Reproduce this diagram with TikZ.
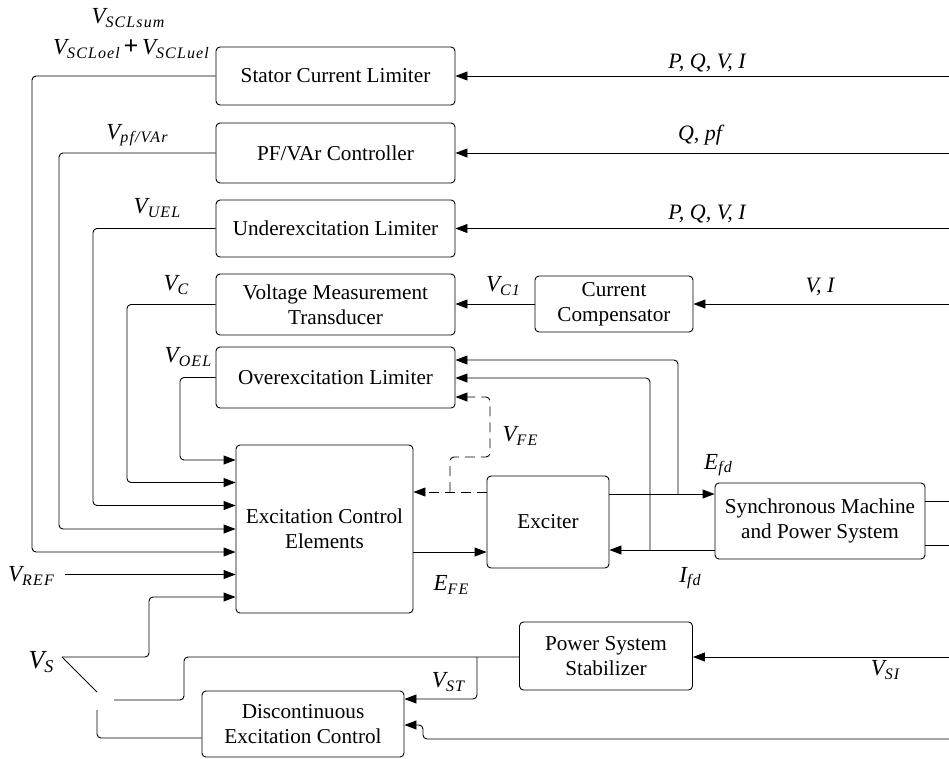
\documentclass[tikz,border=0pt]{standalone}
\usepackage{fontspec}
\setmainfont{Liberation Serif}
\usetikzlibrary{arrows.meta}

\newcommand{\sig}[2]{{\fontsize{23}{24}\selectfont\textit{#1}}\raisebox{-0.35ex}{\fontsize{16}{16}\selectfont\addfontfeature{LetterSpace=7}\textit{#2}}}

\tikzset{
  blk/.style={draw, rounded corners=4pt, align=center, inner sep=2pt, line width=0.9pt},
  wire/.style={line width=0.9pt, rounded corners=4pt},
  arr/.style={wire, -{Triangle[length=12pt, width=9pt]}},
  lbl/.style={inner sep=1pt, font=\fontsize{22}{24}\selectfont\itshape}
}

\begin{document}
\begin{tikzpicture}[x=1pt, y=-1pt, font=\fontsize{21.2}{25}\selectfont]
    \useasboundingbox (0, 0) rectangle (949, 758);

    % blocks
    \node (scl) at (335.5, 76) [blk, minimum width=239pt, minimum height=58pt] {Stator Current Limiter};
    \node (pfc) at (335.5, 153) [blk, minimum width=239pt, minimum height=60pt] {PF/VAr Controller};
    \node (uel) at (335.5, 228.5) [blk, minimum width=239pt, minimum height=57pt] {Underexcitation Limiter};
    \node (vmt) at (335.5, 304.5) [blk, minimum width=239pt, minimum height=61pt] {Voltage Measurement\\Transducer};
    \node (cc) at (614, 304) [blk, minimum width=158pt, minimum height=56pt] {Current\\Compensator};
    \node (oel) at (335.5, 377.5) [blk, minimum width=239pt, minimum height=61pt] {Overexcitation Limiter};
    \node (ece) at (324.5, 529) [blk, minimum width=177pt, minimum height=168pt] {Excitation Control\\Elements};
    \node (exc) at (548, 522) [blk, minimum width=122pt, minimum height=92pt] {Exciter};
    \node (smps) at (820, 521) [blk, minimum width=210pt, minimum height=76pt] {Synchronous Machine\\and Power System};
    \node (pss) at (606, 656) [blk, minimum width=173pt, minimum height=68pt] {Power System\\Stabilizer};
    \node (dec) at (303, 724) [blk, minimum width=202pt, minimum height=66pt] {Discontinuous\\Excitation Control};

    % free ends on the right edge
    \coordinate (r1) at (949, 76);
    \coordinate (r2) at (949, 153);
    \coordinate (r3) at (949, 228.5);
    \coordinate (r4) at (949, 304);
    \coordinate (r5) at (949, 501);
    \coordinate (r6) at (949, 545);
    \coordinate (r7) at (949, 657);
    \coordinate (r8) at (949, 739);

    % inputs from the right
    \draw[arr] (r1) -- (scl.east);
    \draw[arr] (r2) -- (pfc.east);
    \draw[arr] (r3) -- (uel.east);
    \draw[arr] (r4) -- (cc.east);
    \draw[arr] (cc.west) -- (vmt.east |- cc.west);
    \draw[arr] (r7) -- (pss.east |- r7);
    \draw[wire] (smps.east |- r5) -- (r5);
    \draw[wire] (smps.east |- r6) -- (r6);

    % limiter outputs into the control elements
    \draw[arr] (scl.west) -| (32, 552) -- (ece.west |- 32,552);
    \draw[arr] (pfc.west) -| (59, 529) -- (ece.west |- 59,529);
    \draw[arr] (uel.west) -| (93, 505.5) -- (ece.west |- 93,505.5);
    \draw[arr] (vmt.west) -| (127, 482.5) -- (ece.west |- 127,482.5);
    \draw[arr] (oel.west) -| (180, 460) -- (ece.west |- 180,460);
    \coordinate (vref) at (65, 574.5);
    \draw[arr] (vref) -- (ece.west |- vref);

    % exciter and machine
    \draw[arr] (ece.east |- 413,552) -- (exc.west |- 413,552);
    \draw[arr] (exc.east |- 609,494) -- (smps.west |- 609,494);
    \draw[arr] (smps.west |- 715,550) -- (exc.east |- 715,550);
    \draw[arr] (678, 494) |- (oel.east |- 678,360);
    \draw[arr] (650, 550) |- (oel.east |- 650,378);
    \draw[arr, dashed, dash pattern=on 10pt off 6pt] (exc.west |- 487,492) -- (ece.east |- 487,492);
    \draw[arr, dashed, dash pattern=on 10pt off 6pt] (450, 492) |- (490, 457) |- (oel.east |- 490,397);

    % stabilizer signal and switch
    \coordinate (sw) at (62, 657);
    \coordinate (swa) at (114, 700);
    \coordinate (swb) at (97, 710);
    \draw[arr] (sw) -| (149, 597) -- (ece.west |- 149,597);
    \draw[wire] (sw) -- (97, 692);
    \draw[wire] (pss.west |- r7) -| (184, 700) -- (swa);
    \draw[arr] (477, 657) |- (dec.east |- 477,699);
    \draw[wire] (swb) |- (dec.west |- 97,738);
    \draw[arr] (r8) -| (423, 725) -- (dec.east |- 423,725);

    % labels
    \node (l1) at (128, 18) [lbl] {\sig{V}{SCLsum}};
    \node (l2) at (131, 49) [lbl] {\sig{V}{SCLoel}\,{\bfseries\upshape\fontsize{26}{26}\selectfont +}\,\sig{V}{SCLuel}};
    \node (l3) at (137, 135) [lbl] {\sig{V}{pf/VAr}};
    \node (l4) at (157, 208) [lbl] {\sig{V}{UEL}};
    \node (l5) at (176, 285) [lbl] {\sig{V}{C}};
    \node (l6) at (188, 357) [lbl] {\sig{V}{OEL}};
    \node (l7) at (31, 576) [lbl] {\sig{V}{REF}};
    \node (l8) at (41, 662) [lbl, font=\fontsize{26}{28}\selectfont\itshape] {V\raisebox{-0.35ex}{\fontsize{18}{18}\selectfont S}};
    \node (l9) at (707, 63) [lbl] {P, Q, V, I};
    \node (l10) at (700, 135) [lbl] {Q, pf};
    \node (l11) at (707, 214) [lbl] {P, Q, V, I};
    \node (l12) at (820, 287) [lbl] {V, I};
    \node (l13) at (503, 286) [lbl] {\sig{V}{C1}};
    \node (l14) at (520, 436) [lbl] {\sig{V}{FE}};
    \node (l15) at (718, 465) [lbl] {\sig{E}{fd}};
    \node (l16) at (690, 578) [lbl] {\sig{I}{fd}};
    \node (l17) at (451, 585) [lbl] {\sig{E}{FE}};
    \node (l18) at (448, 682) [lbl] {\sig{V}{ST}};
    \node (l19) at (885, 670) [lbl] {\sig{V}{SI}};
\end{tikzpicture}
\end{document}
